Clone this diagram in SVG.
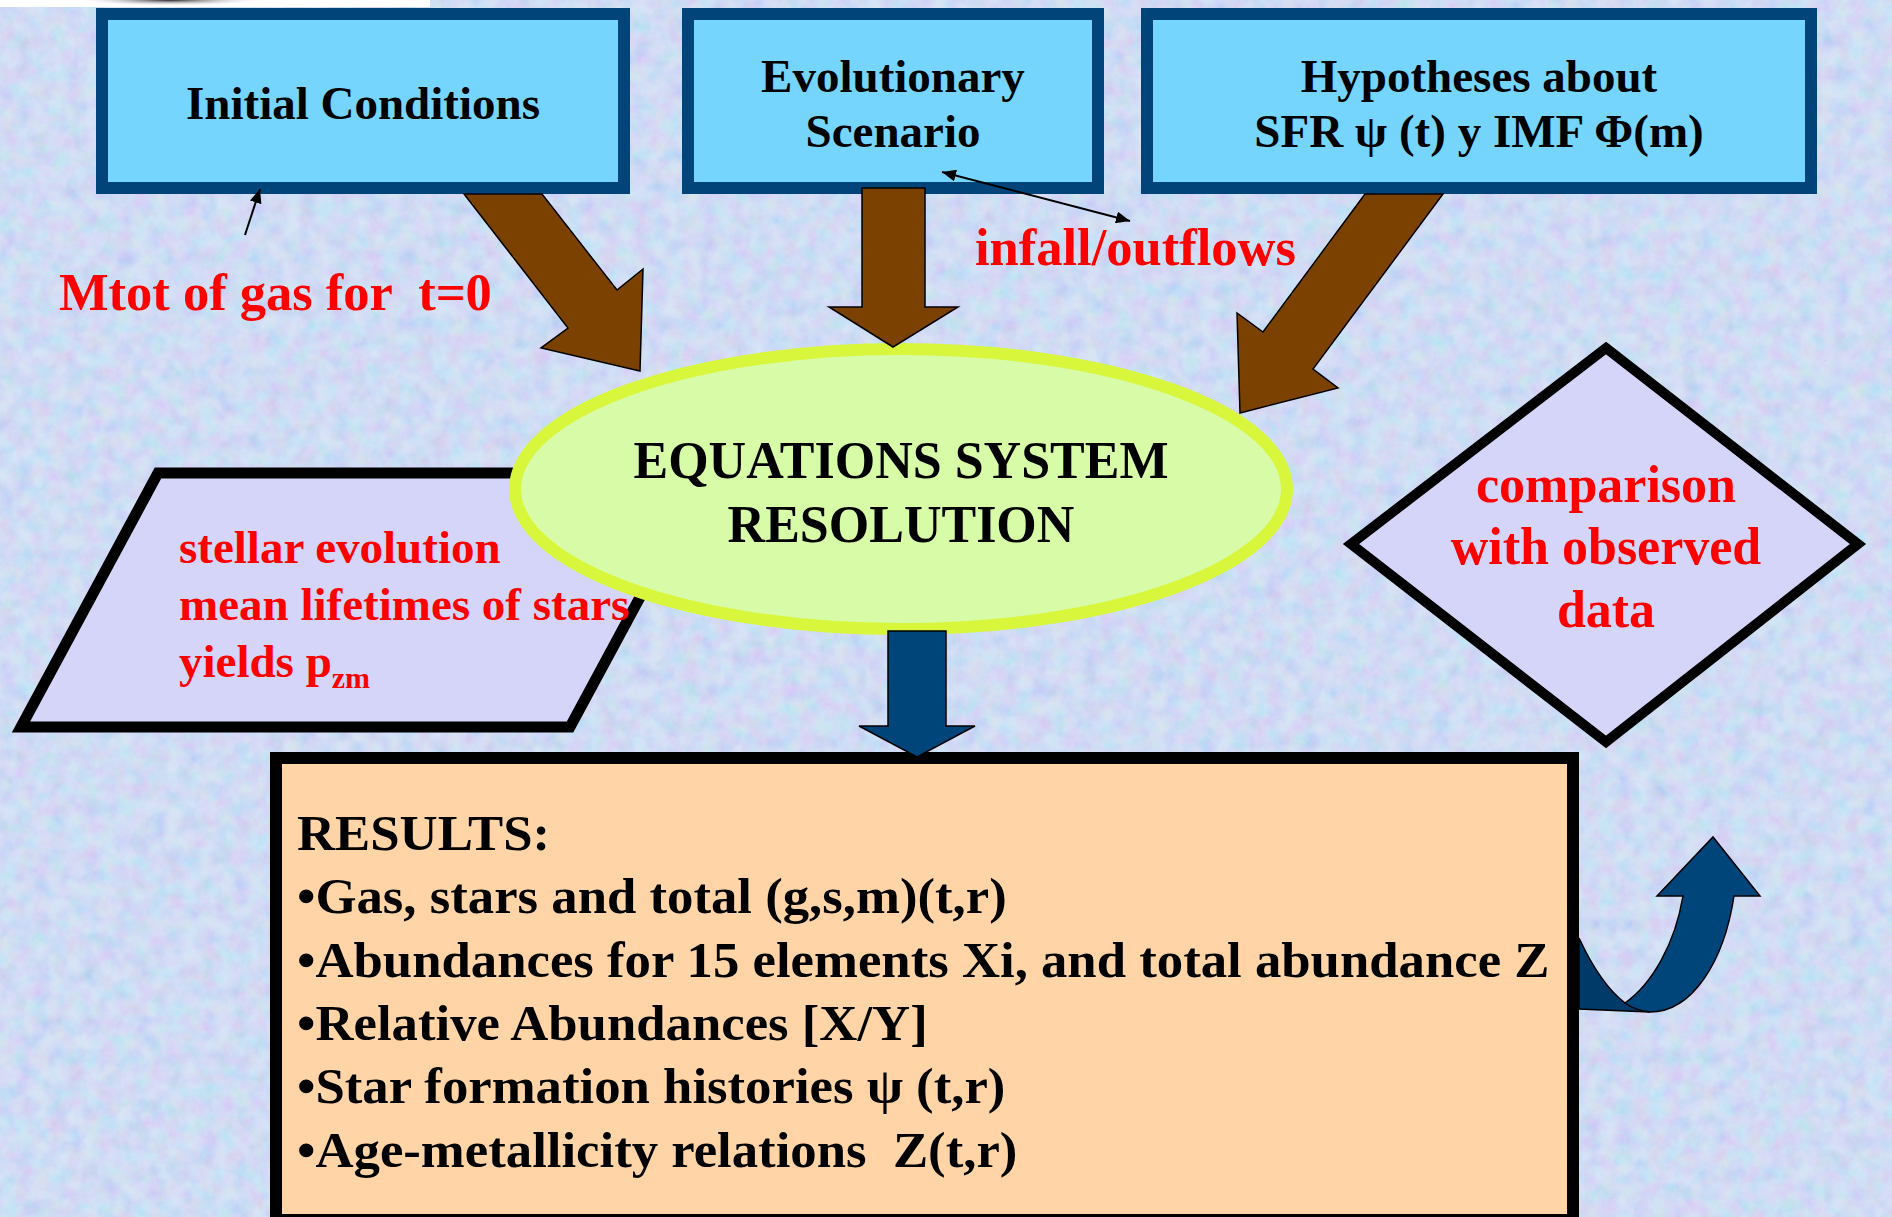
<svg xmlns="http://www.w3.org/2000/svg" width="1892" height="1217" viewBox="0 0 1892 1217">
<defs>
<style>
.box{fill:#76D5FD;stroke:#00447A;stroke-width:12}
.bt{font-family:"Liberation Serif","Times New Roman",serif;font-weight:bold;font-size:47px;fill:#000;text-anchor:middle}
.red{font-family:"Liberation Serif","Times New Roman",serif;font-weight:bold;font-size:52.5px;fill:#FF0000;white-space:pre}
.rc{text-anchor:middle;font-size:52px}
.pt{font-size:47px}
.et{font-family:"Liberation Serif","Times New Roman",serif;font-weight:bold;font-size:52px;fill:#000;text-anchor:middle}
.rt{font-family:"Liberation Serif","Times New Roman",serif;font-weight:bold;font-size:50px;fill:#000;white-space:pre}
.brown{fill:#7A4100;stroke:#000;stroke-width:1.5}
.navy{fill:#00457A;stroke:#000;stroke-width:1.5}
.thin{stroke:#000;stroke-width:2;fill:none}
</style>
<marker id="ah" viewBox="0 0 14 12" refX="14" refY="6" markerWidth="14" markerHeight="12" markerUnits="userSpaceOnUse" orient="auto-start-reverse">
<path d="M0,0 L14,6 L0,12 z" fill="#000"/>
</marker>
<filter id="tex" x="0" y="0" width="100%" height="100%">
<feTurbulence type="fractalNoise" baseFrequency="0.06" numOctaves="4" seed="7"/>
<feColorMatrix type="matrix" values="1.2 0 0 0 0.2  0 0.9 0 0 0.35  0 0 0.6 0 0.65  0 0 0 0 0.6"/>
</filter>
<radialGradient id="smudge" cx="0.5" cy="0.5" r="0.5">
<stop offset="0" stop-color="#222"/>
<stop offset="1" stop-color="#fff" stop-opacity="0"/>
</radialGradient>
</defs>

<g id="background">
<rect x="0" y="0" width="1892" height="1217" fill="#C4D6F2"/>
<rect x="0" y="0" width="1892" height="1217" filter="url(#tex)" opacity="0.55"/>
<rect x="0" y="0" width="430" height="7" fill="#FFFFFF"/>
<ellipse cx="170" cy="0" rx="95" ry="6" fill="url(#smudge)"/>
</g>

<g id="node-stellar-shape">
<polygon points="158,473 707,473 570,727 21,727" fill="#D5D5FA" stroke="#000" stroke-width="11"/>
</g>

<g id="node-equations">
<ellipse cx="901" cy="489" rx="386" ry="140" fill="#D8FBA8" stroke="#D8F73C" stroke-width="12"/>
<text class="et" x="901" y="478">EQUATIONS SYSTEM</text>
<text class="et" x="901" y="542">RESOLUTION</text>
</g>

<g id="node-stellar-label">
<text class="red pt" x="179" y="563">stellar evolution</text>
<text class="red pt" x="179" y="620">mean lifetimes of stars</text>
<text class="red pt" x="179" y="677">yields p<tspan font-size="30" dy="11">zm</tspan></text>
</g>

<g id="node-initial">
<rect class="box" x="102" y="14" width="522" height="174"/>
<text class="bt" x="363" y="119">Initial Conditions</text>
</g>

<g id="node-evolutionary">
<rect class="box" x="688" y="14" width="410" height="174"/>
<text class="bt" x="893" y="92">Evolutionary</text>
<text class="bt" x="893" y="147">Scenario</text>
</g>

<g id="node-hypotheses">
<rect class="box" x="1147" y="14" width="664" height="174"/>
<text class="bt" x="1479" y="92">Hypotheses about</text>
<text class="bt" x="1479" y="147">SFR ψ (t) y IMF Φ(m)</text>
</g>

<g id="label-mtot">
<text class="red" x="59" y="310" xml:space="preserve">Mtot of gas for  t=0</text>
</g>

<g id="label-infall">
<text class="red" x="975" y="265">infall/outflows</text>
</g>

<g id="node-comparison">
<polygon points="1606,348 1858,544 1606,742 1351,544" fill="#D5D5FA" stroke="#000" stroke-width="10"/>
<text class="red rc" x="1606" y="502">comparison</text>
<text class="red rc" x="1606" y="564">with observed</text>
<text class="red rc" x="1606" y="627">data</text>
</g>

<g id="node-results">
<rect x="276" y="758" width="1297" height="462" fill="#FFD5A8" stroke="#000" stroke-width="12"/>
<g transform="matrix(1.055 0 0 1 297 0)">
<text class="rt" x="0" y="850">RESULTS:</text>
<text class="rt" x="0" y="913">•Gas, stars and total (g,s,m)(t,r)</text>
<text class="rt" x="0" y="977">•Abundances for 15 elements Xi, and total abundance Z</text>
<text class="rt" x="0" y="1040">•Relative Abundances [X/Y]</text>
<text class="rt" x="0" y="1103">•Star formation histories ψ (t,r)</text>
<text class="rt" x="0" y="1167" xml:space="preserve">•Age-metallicity relations  Z(t,r)</text>
</g>
</g>

<g id="connectors">
<polygon class="brown" points="464,194 542,194 617,290 643,269 640,371 541,348 568,328"/>
<polygon class="brown" points="862,188 925,188 925,307 958,307 893,347 829,307 862,307"/>
<polygon class="brown" points="1365,194 1443,194 1313,369 1338,388 1240,413 1237,313 1263,332"/>
<polygon class="navy" points="888,631 946,631 946,726 975,726 917,757 859,726 888,726"/>
<path d="M1579,938 C1592,966 1608,990 1625,1003 L1650,1012 L1579,1009 Z" fill="#003A68" stroke="#000" stroke-width="1.5"/>
<path class="navy" d="M1683,896 L1657,896 L1713,837 L1760,896 L1734,896 C1724,962 1692,1012 1650,1012 C1640,1011 1632,1008 1625,1003 C1652,984 1675,944 1683,896 Z"/>
<line class="thin" x1="245" y1="235" x2="260" y2="189" marker-end="url(#ah)"/>
<line class="thin" x1="942" y1="172" x2="1130" y2="221" marker-start="url(#ah)" marker-end="url(#ah)"/>
</g>
</svg>
